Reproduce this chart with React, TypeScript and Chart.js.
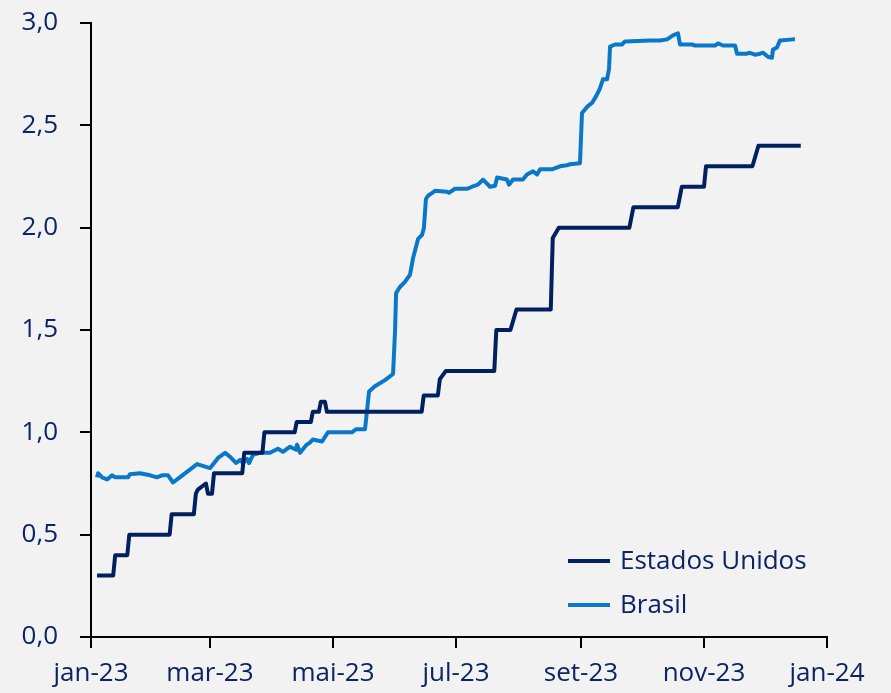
import React, { useEffect, useRef } from "react";
import { Chart, registerables } from "chart.js";

Chart.register(...registerables);

// Days since 1 Jan 2023
const usDays = [3, 11, 12, 18, 19, 39, 40, 51, 52, 53, 57, 58, 60, 61, 75, 76, 85, 86, 101, 102, 109, 110, 113, 114, 116, 117, 164, 165, 172, 173, 176, 200, 201, 208, 211, 228, 229, 232, 267, 269, 291, 293, 304, 305, 328, 331, 352];
const usValues = [0.30, 0.30, 0.40, 0.40, 0.50, 0.50, 0.60, 0.60, 0.70, 0.72, 0.75, 0.70, 0.70, 0.80, 0.80, 0.90, 0.90, 1.00, 1.00, 1.05, 1.05, 1.10, 1.10, 1.15, 1.15, 1.10, 1.10, 1.18, 1.18, 1.26, 1.30, 1.30, 1.50, 1.50, 1.60, 1.60, 1.95, 2.00, 2.00, 2.10, 2.10, 2.20, 2.20, 2.30, 2.30, 2.40, 2.40];

const brDays = [3, 3.5, 5.5, 8, 10.4, 12, 18.3, 19.3, 24.3, 29.3, 32.7, 35.2, 38.2, 40.7, 44, 52.6, 59, 63, 66.5, 69, 72, 74, 75.4, 77.4, 78.4, 80.3, 83.8, 88.8, 92.7, 95.2, 98.7, 101.7, 102.2, 103.7, 107, 108.6, 110, 114.6, 117.5, 129.4, 131.4, 135.9, 137.9, 140.8, 145.8, 149.8, 150.8, 151.3, 153.2, 155.7, 158.2, 159.7, 162.2, 164.2, 165.1, 166.1, 167.1, 170.6, 176.6, 177.5, 180.5, 186.5, 189, 191.9, 194.4, 197.9, 200.4, 201.4, 206.3, 207.3, 209.3, 214.2, 216.2, 219.2, 221.2, 222.7, 228.6, 232.6, 236, 237.6, 242.5, 243.5, 246, 248.5, 250.4, 252.4, 253.9, 255.9, 256.9, 257.4, 259.9, 263.3, 264.8, 277.2, 282.2, 285.7, 288.6, 291.1, 292.1, 298, 299.5, 309.5, 311, 313.4, 319.4, 320.4, 325.3, 326.3, 329.3, 331.8, 333.3, 335.7, 337.7, 338.2, 340.2, 341.7, 348.1, 349.1];
const brValues = [0.78, 0.80, 0.78, 0.77, 0.79, 0.78, 0.78, 0.795, 0.80, 0.79, 0.78, 0.79, 0.79, 0.755, 0.78, 0.845, 0.825, 0.875, 0.90, 0.88, 0.85, 0.865, 0.85, 0.87, 0.85, 0.89, 0.90, 0.90, 0.92, 0.905, 0.93, 0.915, 0.94, 0.90, 0.94, 0.95, 0.965, 0.955, 1.00, 1.00, 1.015, 1.015, 1.20, 1.225, 1.255, 1.285, 1.50, 1.68, 1.71, 1.735, 1.77, 1.85, 1.945, 1.965, 2.00, 2.14, 2.155, 2.18, 2.175, 2.17, 2.19, 2.19, 2.20, 2.21, 2.235, 2.20, 2.205, 2.245, 2.235, 2.21, 2.235, 2.235, 2.26, 2.275, 2.26, 2.285, 2.285, 2.30, 2.305, 2.31, 2.315, 2.56, 2.59, 2.61, 2.64, 2.68, 2.725, 2.725, 2.775, 2.885, 2.895, 2.895, 2.91, 2.915, 2.915, 2.92, 2.94, 2.95, 2.895, 2.895, 2.89, 2.89, 2.90, 2.89, 2.89, 2.85, 2.85, 2.855, 2.845, 2.85, 2.855, 2.835, 2.83, 2.87, 2.88, 2.915, 2.92, 2.92];

const tickDays = [0, 59, 120, 181, 243, 304, 365];
const tickLabels = ["jan-23", "mar-23", "mai-23", "jul-23", "set-23", "nov-23", "jan-24"];
const seriesNames = ["Estados Unidos", "Brasil"];
const seriesColors = ["#00205f", "#0a78c8"];

const TEXT = "#0b2463";
const FONT = "'Open Sans', 'Noto Sans', sans-serif";
const FONT_SIZE = 26;

const legendPlugin = {
  id: "customLegend",
  afterDraw(chart: any) {
    const ctx = chart.ctx;
    const area = chart.chartArea;
    ctx.save();
    seriesNames.forEach((name, i) => {
      const y = area.bottom - 76 + i * 44;
      const x0 = area.right - 259;
      ctx.strokeStyle = seriesColors[i];
      ctx.lineWidth = 4;
      ctx.beginPath();
      ctx.moveTo(x0, y);
      ctx.lineTo(x0 + 42, y);
      ctx.stroke();
      ctx.fillStyle = TEXT;
      ctx.font = `${FONT_SIZE}px ${FONT}`;
      ctx.textBaseline = "middle";
      ctx.textAlign = "left";
      ctx.fillText(name, x0 + 52, y + 1);
    });
    ctx.restore();
  },
};

export default function App() {
  const ref = useRef<HTMLCanvasElement>(null);
  useEffect(() => {
    const toPts = (d: number[], v: number[]) => d.map((x, i) => ({ x, y: v[i] }));
    const chart = new Chart(ref.current!, {
      type: "line",
      data: {
        datasets: [
          {
            label: seriesNames[0],
            data: toPts(usDays, usValues),
            borderColor: seriesColors[0],
            borderWidth: 4,
            pointRadius: 0,
            tension: 0,
            borderJoinStyle: "round",
          },
          {
            label: seriesNames[1],
            data: toPts(brDays, brValues),
            borderColor: seriesColors[1],
            borderWidth: 4,
            pointRadius: 0,
            tension: 0,
            borderJoinStyle: "round",
          },
        ],
      },
      options: {
        animation: false,
        responsive: false,
        maintainAspectRatio: false,
        layout: { padding: { top: 23, right: 64, left: 0, bottom: 0 } },
        plugins: { legend: { display: false }, tooltip: { enabled: false } },
        scales: {
          x: {
            type: "linear",
            min: 0,
            max: 365,
            afterBuildTicks: (s: any) => {
              s.ticks = tickDays.map((v) => ({ value: v }));
            },
            afterFit: (s: any) => {
              s.height = 56;
              s.paddingLeft = 0;
              s.paddingRight = 0;
            },
            grid: { display: true, drawOnChartArea: false, drawTicks: true, tickLength: 11, color: "#000", lineWidth: 2 },
            border: { display: true, color: "#000", width: 2 },
            ticks: {
              autoSkip: false,
              maxRotation: 0,
              padding: 10,
              color: TEXT,
              font: { size: FONT_SIZE, family: FONT },
              callback: (v: any) => {
                const i = tickDays.indexOf(Number(v));
                return i >= 0 ? tickLabels[i] : "";
              },
            },
          },
          y: {
            min: 0,
            max: 3,
            afterFit: (s: any) => {
              s.width = 91;
              s.paddingTop = 0;
              s.paddingBottom = 0;
            },
            grid: { display: true, drawOnChartArea: false, drawTicks: true, tickLength: 11, color: "#000", lineWidth: 2 },
            border: { display: true, color: "#000", width: 2 },
            ticks: {
              stepSize: 0.5,
              padding: 22,
              color: TEXT,
              font: { size: FONT_SIZE, family: FONT },
              callback: (v: any) => Number(v).toFixed(1).replace(".", ","),
            },
          },
        },
      },
      plugins: [legendPlugin],
    } as any);
    return () => chart.destroy();
  }, []);
  return (
    <div style={{ position: "fixed", left: 0, top: 0, width: 891, height: 693, background: "#f2f2f2" }}>
      <canvas ref={ref} width={891} height={693} style={{ display: "block" }} />
    </div>
  );
}
